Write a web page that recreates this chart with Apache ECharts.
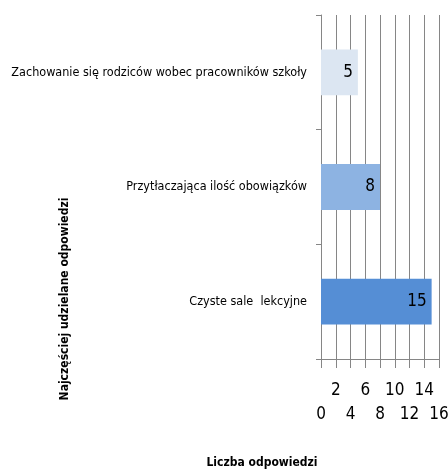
<!DOCTYPE html>
<html>
<head>
<meta charset="utf-8">
<script src="https://cdn.jsdelivr.net/npm/echarts@6/dist/echarts.min.js"></script>
<style>
    html, body { margin: 0; padding: 0; background: #fff; }
    #bar { width: 448px; height: 473px; }
</style>
</head>
<body>
<div id="bar"></div>
<script>
// kategorie od dołu do góry
const categories = ['Czyste sale  lekcyjne', 'Przytłaczająca ilość obowiązków', 'Zachowanie się rodziców wobec pracowników szkoły'];
const values = [15, 8, 5];
const barColors = ['#558ed5', '#8db3e2', '#dce6f2'];
const xTicks = [0, 16, 2]; // min, max, interval

const font = '"Liberation Sans Narrow", "DejaVu Sans Condensed", sans-serif';

let myChart = echarts.init(document.getElementById('bar'));

// etykiety osi X w dwóch wierszach: górny (2, 6, 10, 14) i dolny (0, 4, 8, 12, 16)
const labelStyle = (margin, upper) => ({
    margin: margin,
    color: '#000',
    fontFamily: font,
    fontSize: 17,
    showMinLabel: true,
    showMaxLabel: true,
    formatter: v => ((v % 4 === 0) !== upper ? '' + v : ''),
});

let option = {
    backgroundColor: '#fff',
    animation: false,
    grid: {
        top: 15,
        left: 321,
        right: 9,
        bottom: 114,
        containLabel: false,
        outerBoundsMode: 'none',
    },
    xAxis: [
        {
            type: 'value',
            min: xTicks[0],
            max: xTicks[1],
            interval: xTicks[2],
            axisLine: {
                show: true,
                lineStyle: { color: '#868686' },
            },
            // kreski osi w dół
            axisTick: {
                show: true,
                length: 9,
                lineStyle: { color: '#868686' },
            },
            axisLabel: labelStyle(23, true),
            splitLine: {
                show: true,
                lineStyle: { color: '#868686', width: 1 },
            },
        },
        {
            type: 'value',
            position: 'bottom',
            min: xTicks[0],
            max: xTicks[1],
            interval: xTicks[2],
            axisLine: { show: false },
            axisTick: { show: false },
            splitLine: { show: false },
            axisLabel: labelStyle(47, false),
        },
    ],
    yAxis: {
        type: 'category',
        data: categories,
        axisLine: {
            show: true,
            lineStyle: { color: '#868686' },
        },
        axisTick: {
            show: true,
            length: 5,
            lineStyle: { color: '#868686' },
        },
        axisLabel: {
            margin: 14,
            color: '#000',
            fontFamily: font,
            fontSize: 12.5,
        },
    },
    series: [{
        type: 'bar',
        xAxisIndex: 0,
        barWidth: '40%',
        data: values.map((v, i) => ({
            value: v,
            itemStyle: { color: barColors[i] },
        })),
        label: {
            show: true,
            position: 'insideRight',
            distance: 5,
            color: '#000',
            fontFamily: font,
            fontSize: 17,
        },
    }],
    graphic: [
        {
            type: 'text',
            x: 262,
            y: 463,
            style: {
                text: 'Liczba odpowiedzi',
                fontFamily: font,
                fontWeight: 'bold',
                fontSize: 12,
                fill: '#000',
                textAlign: 'center',
                textVerticalAlign: 'middle',
            },
        },
        {
            type: 'text',
            x: 65,
            y: 299,
            rotation: Math.PI / 2,
            style: {
                text: 'Najczęściej udzielane odpowiedzi',
                fontFamily: font,
                fontWeight: 'bold',
                fontSize: 12,
                fill: '#000',
                textAlign: 'center',
                textVerticalAlign: 'middle',
            },
        },
    ],
};
option && myChart.setOption(option);
</script>
</body>
</html>
